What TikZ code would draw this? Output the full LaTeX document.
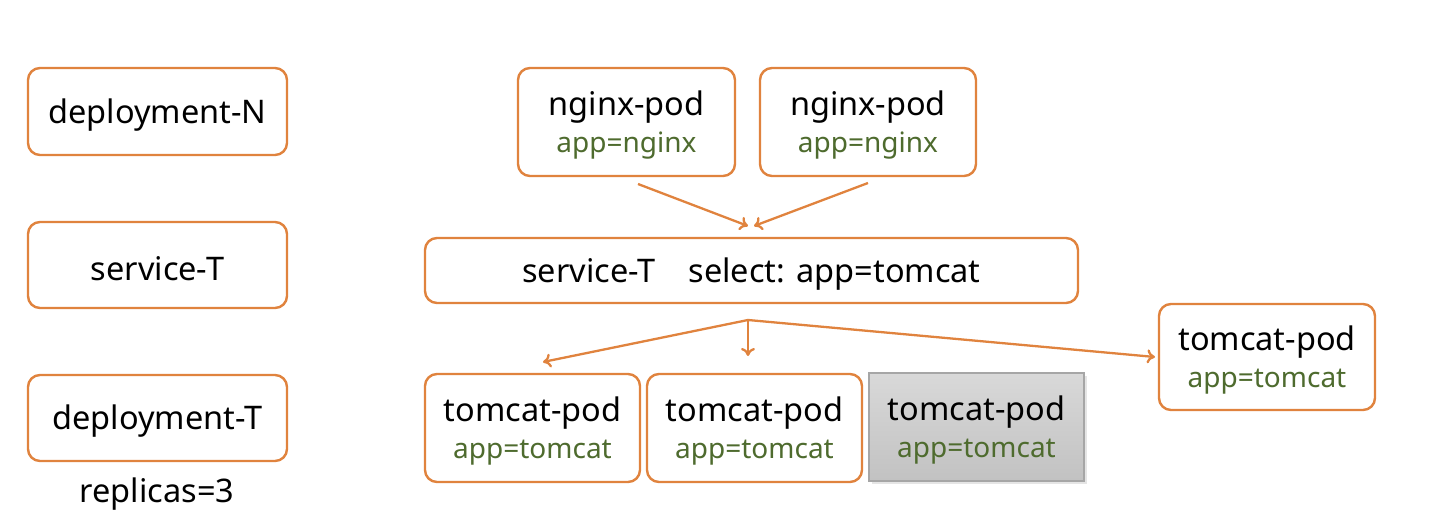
\documentclass[tikz,border=0pt]{standalone}
\usepackage{fontspec}
\setmainfont{Noto Sans}
\usetikzlibrary{arrows.meta}
\definecolor{org}{RGB}{224,131,62}
\definecolor{grn}{RGB}{78,107,46}
\definecolor{gbd}{RGB}{166,166,166}
\tikzset{
  obox/.style={draw=org, line width=2.4pt, rounded corners=12pt, fill=white, inner sep=0pt, align=center, font=\fontsize{32.5}{37}\selectfont},
  gbox/.style={draw=gbd, line width=1.4pt, top color=gray!30, bottom color=gray!48, inner sep=0pt, align=center, font=\fontsize{32.5}{37}\selectfont},
  conn/.style={draw=org, line width=2.3pt, -{To[length=8pt,width=14pt,line width=2.3pt]}},
  big/.style={font=\fontsize{32.5}{37}\selectfont},
}
\newcommand{\up}{\rule{0pt}{31pt}}
\newcommand{\pod}[2]{\up#1\\{\fontsize{28}{32}\selectfont\color{grn}#2}}
\begin{document}
\begin{tikzpicture}[x=1pt,y=-1pt]
\useasboundingbox (0,0) rectangle (1433,516);
% left column
\node[obox, minimum width=259pt, minimum height=87pt] (dn) at (157.5,111.5) {\up deployment-N};
\node[obox, minimum width=259pt, minimum height=86pt] (st) at (157.5,265) {\up service-T};
\node[obox, minimum width=259pt, minimum height=86pt] (dt) at (157.5,418) {\up deployment-T};
\node[big, inner sep=0pt] (rep) at (157,494) {replicas=3};
% nginx pods
\node[obox, minimum width=217pt, minimum height=108pt] (n1) at (626.5,122) {\pod{nginx-pod}{app=nginx}};
\node[obox, minimum width=216pt, minimum height=108pt] (n2) at (868,122) {\pod{nginx-pod}{app=nginx}};
% service
\node[obox, minimum width=653pt, minimum height=65pt] (svc) at (751.5,270.5) {\up service-T\hspace{0.75em} select: app=tomcat};
% tomcat pods
\node[obox, minimum width=215pt, minimum height=108pt] (t1) at (532.5,428) {\pod{tomcat-pod}{app=tomcat}};
\node[obox, minimum width=215pt, minimum height=108pt] (t2) at (754.5,428) {\pod{tomcat-pod}{app=tomcat}};
\fill[gray!20] (872,376) rectangle (1087,484);
\node[gbox, minimum width=215pt, minimum height=108pt] (t3) at (976.5,427) {\pod{tomcat-pod}{app=tomcat}};
\node[obox, minimum width=216pt, minimum height=106pt] (t4) at (1267,357) {\pod{tomcat-pod}{app=tomcat}};
% connector points
\coordinate (a1) at (638,184);
\coordinate (a2) at (868,183);
\coordinate (m1) at (748,226);
\coordinate (m2) at (754,226);
\coordinate (s0) at (748,320);
\coordinate (e1) at (543,362);
\coordinate (e2) at (748,356);
\coordinate (e3) at (1155,357);
\draw[conn] (a1) -- (m1);
\draw[conn] (a2) -- (m2);
\draw[conn] (s0) -- (e1);
\draw[conn] (s0) -- (e2);
\draw[conn] (s0) -- (e3);
\end{tikzpicture}
\end{document}
